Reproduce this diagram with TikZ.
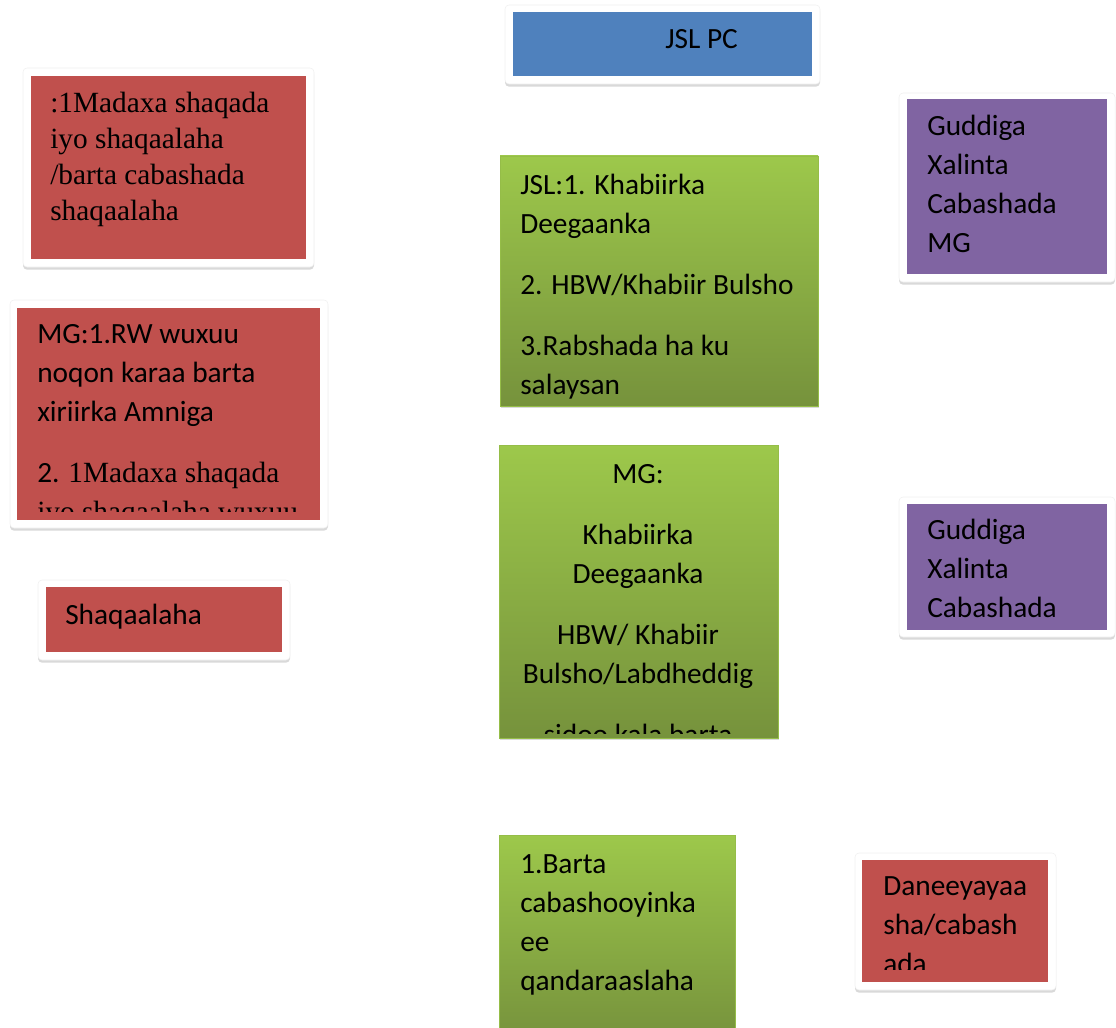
\documentclass[tikz,border=0pt]{standalone}
\usepackage{fontspec}
\setmainfont{Carlito}
\newfontfamily\tnr{Liberation Serif}
\usetikzlibrary{fit,shadows}
\definecolor{boxred}{HTML}{C0504D}
\definecolor{boxblue}{HTML}{4F81BD}
\definecolor{boxpurple}{HTML}{8064A2}
\definecolor{greentop}{HTML}{9DC84B}
\definecolor{greenbot}{HTML}{76923C}

\begin{document}
\begin{tikzpicture}[x=0.75pt,y=-0.75pt,
  frame/.style={fill=white,draw=black!6,rounded corners=3pt,inner sep=0pt,
    drop shadow={shadow xshift=0pt,shadow yshift=-2pt,opacity=0.3}},
  flat/.style={fill=#1,inner sep=0pt},
  grad/.style={top color=greentop,bottom color=greenbot,draw=greentop!80!greenbot,inner sep=0pt,
    drop shadow={shadow xshift=1pt,shadow yshift=-1.5pt,opacity=0.3}},
  txt/.style={inner sep=0pt,anchor=north west,align=left,font=\fontsize{22}{29.25}\selectfont}]
  \useasboundingbox (0,0) rectangle (1116,1027);

  \node[frame,fit={(505,5) (820,84)}] (PCf) {};
  \node[flat=boxblue,fit={(513,12) (812,76)}] (PC) {};
  \node[txt] (PCt) at (665,29) {JSL PC};

  \node[frame,fit={(23,68) (314,267)}] (M1f) {};
  \node[flat=boxred,fit={(31,76) (306,259)}] (M1) {};
  \node[txt,font=\tnr\fontsize{22}{27}\selectfont] (M1t) at (50,92)
    {:1Madaxa shaqada\\iyo shaqaalaha\\/barta cabashada\\shaqaalaha};

  \node[frame,fit={(10,300) (328,528)}] (M2f) {};
  \node[flat=boxred,fit={(17,308) (320,520)}] (M2) {};
  \begin{scope}
    \clip (17,308) rectangle (320,511);
    \node[txt] (M2t) at (37,324)
      {MG:1.RW wuxuu\\noqon karaa barta\\xiriirka Amniga\\[16.5pt]
       2. {\tnr 1Madaxa shaqada}\\{\tnr iyo shaqaalaha wuxuu}};
  \end{scope}

  \node[frame,fit={(38,580) (290,660)}] (Shf) {};
  \node[flat=boxred,fit={(46,587) (282,652)}] (Sh) {};
  \node[txt] (Sht) at (65,604) {Shaqaalaha};

  \node[grad,fit={(500,156) (818,406)}] (G1) {};
  \node[txt] (G1t) at (520,174)
    {JSL:1. Khabiirka\\Deegaanka\\[16.5pt]2. HBW/Khabiir Bulsho\\[16.5pt]3.Rabshada ha ku\\salaysan};

  \node[grad,fit={(499,445) (778,738)}] (G2) {};
  \begin{scope}
    \clip (499,445) rectangle (778,733);
    \node[txt,anchor=north,align=center] (G2t) at (638,464)
      {MG:\\[16.5pt]Khabiirka\\Deegaanka\\[16.5pt]HBW/ Khabiir\\Bulsho/Labdheddig\\[16.5pt]sidoo kala barta};
  \end{scope}

  \node[frame,fit={(899,93) (1115,282)}] (X1f) {};
  \node[flat=boxpurple,fit={(907,99) (1107,274)}] (X1) {};
  \node[txt] (X1t) at (927,115) {Guddiga\\Xalinta\\Cabashada\\MG};

  \node[frame,fit={(899,497) (1115,637)}] (X2f) {};
  \node[flat=boxpurple,fit={(907,504) (1107,630)}] (X2) {};
  \node[txt] (X2t) at (927,519) {Guddiga\\Xalinta\\Cabashada};

  \node[grad,fit={(499,835) (735,1040)}] (G3) {};
  \node[txt] (G3t) at (520,854) {1.Barta\\cabashooyinka\\ee\\qandaraaslaha};

  \node[frame,fit={(855,853) (1056,990)}] (D1f) {};
  \node[flat=boxred,fit={(862,860) (1048,982)}] (D1) {};
  \begin{scope}
    \clip (862,860) rectangle (1048,969);
    \node[txt] (D1t) at (883,876) {Daneeyayaa\\sha/cabash\\ada};
  \end{scope}
\end{tikzpicture}
\end{document}
